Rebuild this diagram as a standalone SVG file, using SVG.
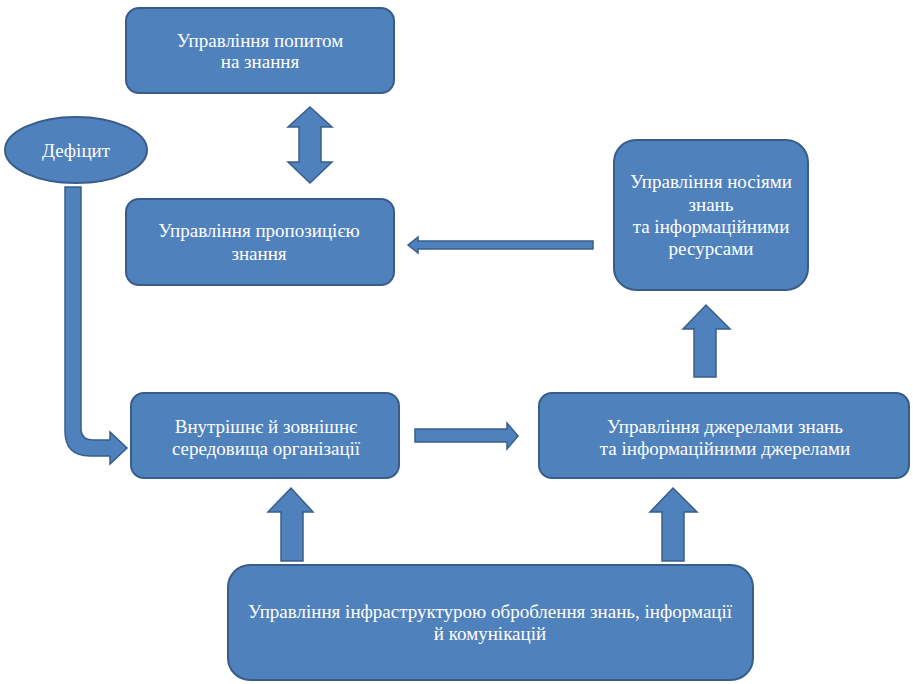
<svg xmlns="http://www.w3.org/2000/svg" width="913" height="684" viewBox="0 0 913 684">
  <style>
    .node { fill: #4F81BD; stroke: #385D8A; stroke-width: 2; }
    .arrow { fill: #4F81BD; stroke: #385D8A; stroke-width: 1.5; stroke-linejoin: miter; }
    .label { fill: #FFFFFF; font-family: 'Liberation Serif', 'Times New Roman', 'DejaVu Serif', serif; font-size: 19px; text-anchor: middle; }
  </style>
  <rect width="913" height="684" fill="#FFFFFF"/>

  <g id="connectors">
    <!-- bent arrow from the ellipse down and into the environment box -->
    <path class="arrow" d="M65,187 L81,187 L81,428 Q81,440 93,440 L110,440 L110,432 L127,448 L110,464 L110,456 L90,456 Q65,456 65,431 Z"/>
    <!-- double-headed vertical arrow between demand and supply boxes -->
    <path class="arrow" d="M310,107 L332,127 L321,127 L321,162 L332,162 L310,183 L288,162 L299,162 L299,127 L288,127 Z"/>
    <!-- carriers box to supply box -->
    <path class="arrow" d="M593,241 L418,241 L418,237 L408,245 L418,253 L418,249 L593,249 Z"/>
    <!-- environment box to sources box -->
    <path class="arrow" d="M415,429 L507,429 L507,423 L518,436 L507,449 L507,442 L415,442 Z"/>
    <!-- infrastructure up to environment -->
    <path class="arrow" d="M281,561 L281,512 L268,512 L291,488 L313,512 L303,512 L303,561 Z"/>
    <!-- infrastructure up to sources -->
    <path class="arrow" d="M662,561 L662,512 L650,512 L673,488 L697,512 L684,512 L684,561 Z"/>
    <!-- sources up to carriers -->
    <path class="arrow" d="M694,377 L694,329 L683,329 L706,305 L730,329 L716,329 L716,377 Z"/>
  </g>

  <g id="deficit">
    <ellipse class="node" cx="76" cy="150" rx="71" ry="33"/>
    <text class="label" font-family="Liberation Serif, serif" x="76" y="157">Дефіцит</text>
  </g>

  <g id="demand">
    <rect class="node" x="126" y="8" width="268" height="85" rx="13"/>
    <text class="label" font-family="Liberation Serif, serif" x="260" y="47">Управління попитом</text>
    <text class="label" font-family="Liberation Serif, serif" x="260" y="68">на знання</text>
  </g>

  <g id="supply">
    <rect class="node" x="126" y="199" width="268" height="86" rx="13"/>
    <text class="label" font-family="Liberation Serif, serif" x="259" y="237">Управління пропозицією</text>
    <text class="label" font-family="Liberation Serif, serif" x="259" y="260">знання</text>
  </g>

  <g id="carriers">
    <rect class="node" x="614" y="140" width="194" height="150" rx="22"/>
    <text class="label" font-family="Liberation Serif, serif" x="711" y="188">Управління носіями</text>
    <text class="label" font-family="Liberation Serif, serif" x="711" y="211">знань</text>
    <text class="label" font-family="Liberation Serif, serif" x="711" y="233">та інформаційними</text>
    <text class="label" font-family="Liberation Serif, serif" x="711" y="255">ресурсами</text>
  </g>

  <g id="environment">
    <rect class="node" x="131" y="393" width="268" height="85" rx="13"/>
    <text class="label" font-family="Liberation Serif, serif" x="266" y="433">Внутрішнє й зовнішнє</text>
    <text class="label" font-family="Liberation Serif, serif" x="266" y="455">середовища організації</text>
  </g>

  <g id="sources">
    <rect class="node" x="539" y="393" width="370" height="85" rx="13"/>
    <text class="label" font-family="Liberation Serif, serif" x="725" y="433">Управління джерелами знань</text>
    <text class="label" font-family="Liberation Serif, serif" x="725" y="455">та інформаційними джерелами</text>
  </g>

  <g id="infrastructure">
    <rect class="node" x="228" y="565" width="525" height="115" rx="22"/>
    <text class="label" font-family="Liberation Serif, serif" x="490" y="618">Управління інфраструктурою оброблення знань, інформації</text>
    <text class="label" font-family="Liberation Serif, serif" x="490" y="640">й комунікацій</text>
  </g>
</svg>
